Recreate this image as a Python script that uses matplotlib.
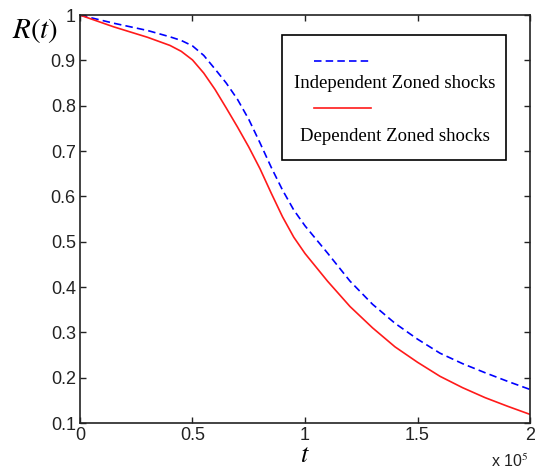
import numpy as np
import matplotlib
matplotlib.use('Agg')
import matplotlib.pyplot as plt
from matplotlib.patches import Rectangle

plt.rcParams['font.family'] = ['Liberation Sans', 'DejaVu Sans']
plt.rcParams['mathtext.fontset'] = 'stix'

# time in units of 1e5
t = [0, 0.15, 0.3, 0.4, 0.45, 0.5, 0.55, 0.6, 0.65, 0.7, 0.75, 0.8, 0.85, 0.9,
     0.95, 1.0, 1.1, 1.2, 1.3, 1.4, 1.5, 1.6, 1.7, 1.8, 1.9, 2.0]
r_independent = [1.0, 0.982, 0.966, 0.952, 0.944, 0.932, 0.911, 0.881, 0.850,
                 0.814, 0.770, 0.718, 0.664, 0.614, 0.570, 0.535, 0.475,
                 0.413, 0.362, 0.320, 0.285, 0.254, 0.231, 0.211, 0.192, 0.174]
r_dependent = [1.0, 0.974, 0.951, 0.933, 0.920, 0.901, 0.872, 0.836, 0.795,
               0.753, 0.709, 0.661, 0.607, 0.555, 0.510, 0.474, 0.413,
               0.357, 0.310, 0.268, 0.234, 0.203, 0.178, 0.156, 0.137, 0.119]
legend_labels = ['Independent Zoned shocks', 'Dependent Zoned shocks']

fig = plt.figure(figsize=(5.35, 4.71), dpi=100)
ax = fig.add_axes([0.1495, 0.1019, 0.8412, 0.8661])

ax.plot(t, r_independent, color='#0000ff', linestyle=(0, (4.5, 2.5)), linewidth=1.2)
ax.plot(t, r_dependent, color='#ff1a1a', linestyle='-', linewidth=1.2)

ax.set_xlim(0, 2)
ax.set_ylim(0.1, 1)
ax.set_xticks([0, 0.5, 1, 1.5, 2])
ax.set_xticklabels(['0', '0.5', '1', '1.5', '2'])
ax.set_yticks(np.arange(0.1, 1.01, 0.1))
ax.set_yticklabels(['0.1', '0.2', '0.3', '0.4', '0.5', '0.6', '0.7', '0.8', '0.9', '1'])
ax.tick_params(direction='in', length=4, width=1, labelsize=13, top=True, right=True,
               colors='#222222', pad=3)
for s in ax.spines.values():
    s.set_linewidth(1.2)
    s.set_color('#222222')

# axis labels, MATLAB style
fig.text(0.066, 0.936, r'$R\left(t\right)$', fontsize=21, ha='center', va='center')
ax.text(0.5, -0.048, r'$t$', transform=ax.transAxes, fontsize=19, ha='center', va='top')
fig.text(0.988, 0.003, r'x 10$^5$', fontsize=11.5, ha='right', va='bottom', color='#222222')

# legend box drawn by hand (line sample above each label)
box = Rectangle((0.449, 0.645), 0.498, 0.306, transform=ax.transAxes, fill=False,
                edgecolor='black', linewidth=1.2)
ax.add_patch(box)
ax.plot([0.52, 0.647], [0.887, 0.887], transform=ax.transAxes, color='#0000ff',
        linestyle=(0, (4.5, 2.5)), linewidth=1.2)
ax.plot([0.52, 0.647], [0.772, 0.772], transform=ax.transAxes, color='#ff1a1a',
        linestyle='-', linewidth=1.2)
ax.text(0.699, 0.833, legend_labels[0], transform=ax.transAxes, fontsize=13.5,
        family='Liberation Serif', ha='center', va='center')
ax.text(0.699, 0.703, legend_labels[1], transform=ax.transAxes, fontsize=13.5,
        family='Liberation Serif', ha='center', va='center')

fig.savefig('out.png', dpi=100)
